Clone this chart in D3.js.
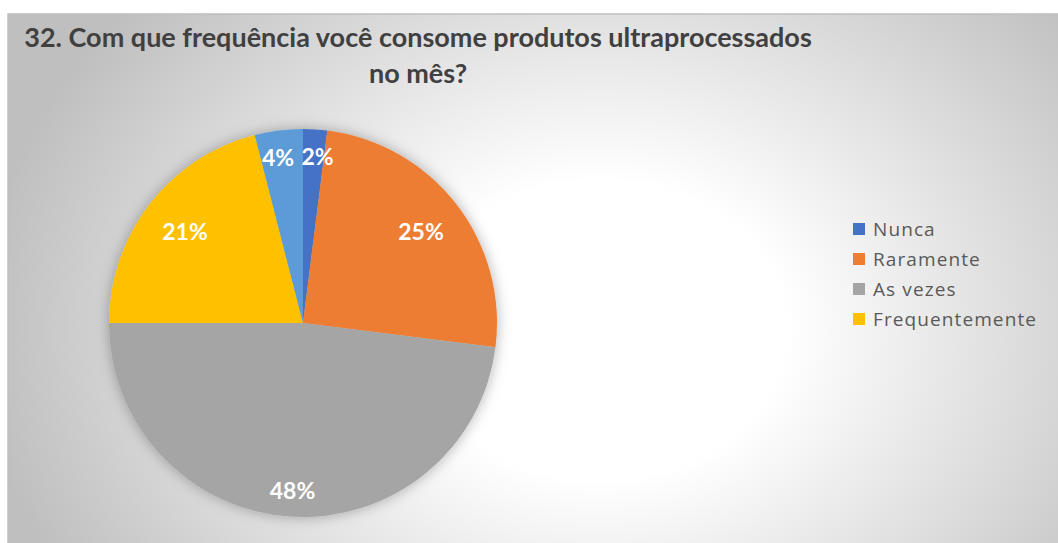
<!DOCTYPE html>
<html>
<head>
<meta charset="utf-8">
<script src="https://cdn.jsdelivr.net/npm/d3@7"></script>
<style>
  html, body { margin: 0; padding: 0; background: #ffffff; overflow: hidden; }
  svg { display: block; }
</style>
</head>
<body>
<svg id="chart" width="1058" height="543"></svg>
<script>
// Survey question 32: monthly consumption of ultra-processed products
const titleLines = ["32. Com que frequência você consome produtos ultraprocessados", "no mês?"];
const categories = ["Nunca", "Raramente", "As vezes", "Frequentemente", "Sempre"];
const percentages = [2, 25, 48, 21, 4];
const sliceColors = ["#4472c4", "#ed7d31", "#a5a5a5", "#ffc000", "#5b9bd5"];
const legendEntries = 4; // entries listed in the legend box

const W = 1058, H = 543;
const svg = d3.select("#chart");
const defs = svg.append("defs");

// chart area background: soft radial fill
const grad = defs.append("radialGradient")
  .attr("id", "bg").attr("gradientUnits", "userSpaceOnUse")
  .attr("cx", 600).attr("cy", 330).attr("r", 620)
  .attr("gradientTransform", "translate(600,330) scale(1,0.8) translate(-600,-330)");
grad.append("stop").attr("offset", 0).attr("stop-color", "#ffffff");
grad.append("stop").attr("offset", 0.3).attr("stop-color", "#ffffff");
grad.append("stop").attr("offset", 1).attr("stop-color", "#bfbfbf");

const shadow = defs.append("filter").attr("id", "pieShadow")
  .attr("x", "-20%").attr("y", "-20%").attr("width", "140%").attr("height", "140%");
shadow.append("feDropShadow").attr("dx", 0).attr("dy", 0)
  .attr("stdDeviation", 7).attr("flood-color", "#000").attr("flood-opacity", 0.3);

svg.append("rect").attr("x", 8).attr("y", 14).attr("width", W).attr("height", H)
  .attr("fill", "url(#bg)").attr("stroke", "#bfbfbf").attr("stroke-width", 1.5);

// title
const title = svg.append("text")
  .attr("font-family", "Lato, 'Open Sans', sans-serif")
  .attr("font-weight", "bold").attr("font-size", 27)
  .attr("fill", "#404040").attr("text-anchor", "middle");
title.selectAll("tspan").data(titleLines).join("tspan")
  .attr("x", 418).attr("y", (d, i) => 47 + i * 36).text(d => d);

// pie
const cx = 303, cy = 323, radius = 194;
const data = categories.map((c, i) => ({ name: c, value: percentages[i], color: sliceColors[i] }));
const pie = d3.pie().value(d => d.value).sort(null);
const arcs = pie(data);
const arc = d3.arc().innerRadius(0).outerRadius(radius);

const g = svg.append("g").attr("transform", `translate(${cx},${cy})`);
g.append("g").attr("filter", "url(#pieShadow)")
  .selectAll("path").data(arcs).join("path")
  .attr("d", arc).attr("fill", d => d.data.color);

// data labels: large and tiny slices sit nearer the rim;
// tiny neighbours are pushed slightly apart so their labels don't collide
const isSmall = d => d.data.value < 5;
const labelRadius = d => radius * ((d.data.value >= 40 || isSmall(d)) ? 0.86 : 0.77);
g.selectAll("text.lbl").data(arcs).join("text")
  .attr("class", "lbl")
  .attr("transform", d => {
    const r = labelRadius(d);
    const p = d3.arc().innerRadius(r).outerRadius(r).centroid(d);
    const nudge = isSmall(d) ? Math.sign(p[0]) * 4 : 0;
    return `translate(${p[0] + nudge},${p[1]})`;
  })
  .attr("text-anchor", "middle").attr("dominant-baseline", "central")
  .attr("font-family", "Lato, 'Open Sans', sans-serif")
  .attr("font-weight", "bold").attr("font-size", 23).attr("fill", "#ffffff")
  .text(d => d.data.value + "%");

// legend
const legend = svg.append("g").attr("transform", "translate(853,223)");
const items = legend.selectAll("g").data(data.slice(0, legendEntries)).join("g")
  .attr("transform", (d, i) => `translate(0,${i * 30})`);
items.append("rect").attr("width", 12).attr("height", 12).attr("fill", d => d.color);
items.append("text").attr("x", 20).attr("y", 13)
  .attr("font-family", "'Open Sans', Lato, sans-serif").attr("font-size", 19)
  .attr("letter-spacing", 1.1)
  .attr("fill", "#595959").text(d => d.name);
</script>
</body>
</html>
